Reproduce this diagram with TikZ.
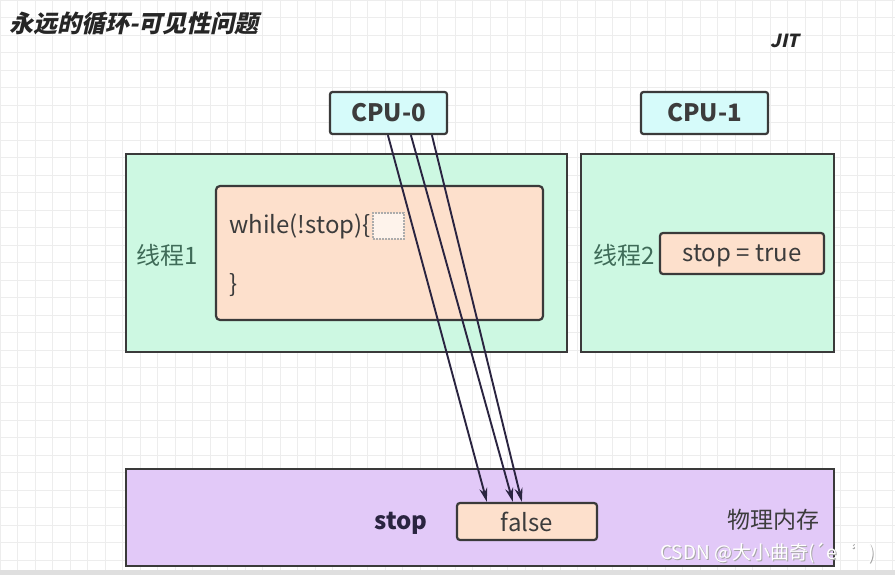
\documentclass[tikz,border=0pt]{standalone}
\usepackage{fontspec}
\setmainfont{Noto Sans CJK SC}
\newfontfamily\titlefont[FakeSlant=0.22]{Noto Sans CJK SC}
\usetikzlibrary{calc,arrows.meta}
\definecolor{cpufill}{HTML}{D6FBFA}
\definecolor{thfill}{HTML}{CDF8E2}
\definecolor{codefill}{HTML}{FDE0CC}
\definecolor{memfill}{HTML}{E2C9F8}
\definecolor{edge}{HTML}{3A3A3A}
\definecolor{txt}{HTML}{3C3C3C}
\definecolor{thtxt}{HTML}{3F6B58}
\definecolor{arrowc}{HTML}{2A2440}
\definecolor{gridc}{HTML}{EDEDED}
\tikzset{
  box/.style={draw=edge, line width=2.2pt, rounded corners=2.5pt, inner sep=0pt},
  cpubox/.style={box, fill=cpufill, font=\fontsize{24}{28}\selectfont\bfseries, text=txt},
  thbox/.style={draw=edge, line width=2.2pt, fill=thfill, inner sep=0pt},
  codebox/.style={box, fill=codefill, rounded corners=4pt, font=\fontsize{24}{28}\selectfont, text=txt},
  lbl/.style={font=\fontsize{24}{28}\selectfont, text=thtxt, inner sep=0pt},
  codetxt/.style={font=\fontsize{24}{28}\selectfont, text=txt, inner sep=0pt, anchor=west},
  flow/.style={draw=arrowc, line width=1.9pt, -{Stealth[length=14pt,width=8pt]}}
}
\begin{document}
\begin{tikzpicture}[x=1pt,y=-1pt]
\useasboundingbox (0,0) rectangle (895,575);
\fill[white] (0,0) rectangle (895,575);
\foreach \i in {0,...,51} {\draw[gridc, line width=0.7pt] ({\i*17.5},0) -- ({\i*17.5},575);}
\foreach \j in {0,...,33} {\draw[gridc, line width=0.7pt] (0,{\j*17.5}) -- (895,{\j*17.5});}
\fill[gray!25] (0,570) rectangle (895,575);

\node[anchor=west, inner sep=0pt, font=\titlefont\fontsize{24}{28}\selectfont\bfseries, text=black!85] (title) at (9,24) {永远的循环-可见性问题};
\node[inner sep=0pt, font=\titlefont\fontsize{18}{20}\selectfont\bfseries, text=black!85] (jit) at (785,41) {JIT};

\node[cpubox, minimum width=117pt, minimum height=42pt] (cpu0) at (388.5,113) {CPU-0};
\node[cpubox, minimum width=127pt, minimum height=42pt] (cpu1) at (704.5,113) {CPU-1};

\node[thbox, minimum width=441pt, minimum height=198pt] (t1) at (346.5,253) {};
\node[thbox, minimum width=253pt, minimum height=198pt] (t2) at (707.5,253) {};
\node[lbl, anchor=west] (t1l) at (136,255) {线程1};
\node[lbl, anchor=west] (t2l) at (593,255) {线程2};

\node[codebox, minimum width=327pt, minimum height=134pt] (code) at (379.5,253) {};
\node[codetxt] (w) at (229,226) {while(!stop)\{};
\node[codetxt] (cb) at (229,285) {\}};
\node[draw=gray!65, dash pattern=on 2pt off 1pt, line width=1.2pt, fill=codefill!40, inner sep=0pt, minimum width=31pt, minimum height=26pt] (cursor) at (388.5,226) {};

\node[codebox, rounded corners=3pt, minimum width=164pt, minimum height=41pt] (st) at (742,253.5) {};
\node[codetxt, anchor=center] (stt) at (742,256) {stop = true};

\node[draw=edge, line width=2.2pt, fill=memfill, inner sep=0pt, minimum width=708pt, minimum height=97pt] (mem) at (480,517.5) {};
\node[inner sep=0pt, font=\fontsize{24}{28}\selectfont\bfseries, text=arrowc] (stopl) at (401,523) {stop};
\node[codebox, rounded corners=3pt, minimum width=140pt, minimum height=37pt] (false) at (527,521.5) {false};
\node[inner sep=0pt, anchor=west, font=\fontsize{23}{26}\selectfont, text=txt] (phys) at (727,520) {物理内存};

\coordinate (a1) at ($(cpu0.south west)+(59,0)$);
\coordinate (a2) at ($(cpu0.south west)+(82,0)$);
\coordinate (a3) at ($(cpu0.south west)+(103,0)$);
\coordinate (f1) at ($(false.north west)+(31,0)$);
\coordinate (f2) at ($(false.north west)+(57,0)$);
\coordinate (f3) at ($(false.north west)+(66,0)$);
\draw[flow] (a1) -- (f1);
\draw[flow] (a2) -- (f2);
\draw[flow] (a3) -- (f3);

\node[anchor=west, inner sep=0pt, font=\fontsize{19}{22}\selectfont, text=gray!70] (wm0) at (661,554) {CSDN @大小曲奇(´e`\ \ \ )};
\node[anchor=west, inner sep=0pt, font=\fontsize{19}{22}\selectfont, text=white] (wm) at (660,553) {CSDN @大小曲奇(´e`\ \ \ )};
\end{tikzpicture}
\end{document}
